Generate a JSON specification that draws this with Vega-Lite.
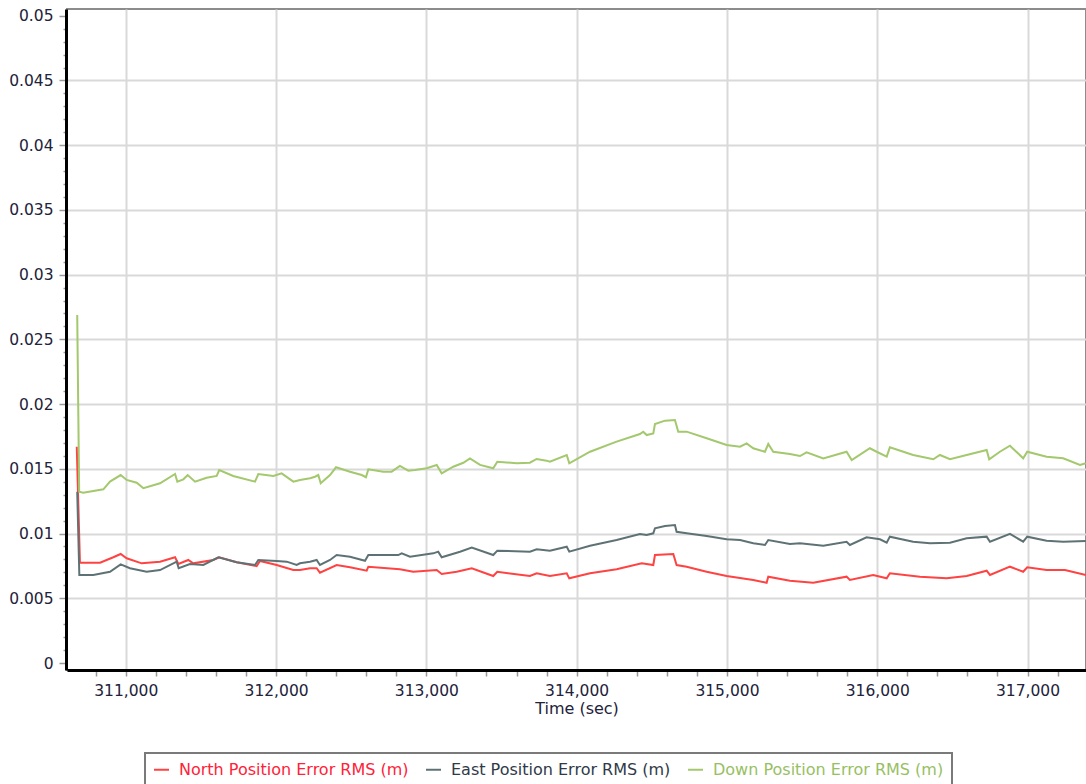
{
  "$schema": "https://vega.github.io/schema/vega-lite/v6.json",
  "width": 1019,
  "height": 661,
  "autosize": {"type": "none"},
  "padding": {"left": 67, "top": 9, "right": 0, "bottom": 114},
  "background": "white",
  "config": {"view": {"stroke": "#8c8c8c", "strokeWidth": 2}, "font": "DejaVu Sans"},
  "datasets": {
    "raw": [
      {"s":"N","t":310674,"v":0.01671},{"s":"N","t":310695,"v":0.00775},{"s":"N","t":310829,"v":0.00775},{"s":"N","t":310917,"v":0.00817},{"s":"N","t":310966,"v":0.00842},{"s":"N","t":311006,"v":0.00809},{"s":"N","t":311106,"v":0.0077},{"s":"N","t":311228,"v":0.00783},{"s":"N","t":311328,"v":0.00817},{"s":"N","t":311350,"v":0.00765},{"s":"N","t":311416,"v":0.00796},{"s":"N","t":311449,"v":0.0077},{"s":"N","t":311582,"v":0.00796},{"s":"N","t":311622,"v":0.00817},{"s":"N","t":311738,"v":0.00778},{"s":"N","t":311871,"v":0.00749},{"s":"N","t":311893,"v":0.00788},{"s":"N","t":312004,"v":0.00757},{"s":"N","t":312115,"v":0.00718},{"s":"N","t":312159,"v":0.00718},{"s":"N","t":312226,"v":0.00732},{"s":"N","t":312270,"v":0.00732},{"s":"N","t":312292,"v":0.00698},{"s":"N","t":312403,"v":0.00757},{"s":"N","t":312492,"v":0.00739},{"s":"N","t":312603,"v":0.00713},{"s":"N","t":312614,"v":0.00744},{"s":"N","t":312824,"v":0.00724},{"s":"N","t":312913,"v":0.00705},{"s":"N","t":313069,"v":0.00718},{"s":"N","t":313102,"v":0.00688},{"s":"N","t":313202,"v":0.00705},{"s":"N","t":313302,"v":0.00732},{"s":"N","t":313445,"v":0.00672},{"s":"N","t":313472,"v":0.00705},{"s":"N","t":313689,"v":0.00672},{"s":"N","t":313734,"v":0.00693},{"s":"N","t":313822,"v":0.00672},{"s":"N","t":313934,"v":0.00693},{"s":"N","t":313951,"v":0.00654},{"s":"N","t":314089,"v":0.00693},{"s":"N","t":314266,"v":0.00724},{"s":"N","t":314433,"v":0.0077},{"s":"N","t":314510,"v":0.00757},{"s":"N","t":314521,"v":0.00834},{"s":"N","t":314643,"v":0.00842},{"s":"N","t":314665,"v":0.00757},{"s":"N","t":314732,"v":0.00744},{"s":"N","t":314865,"v":0.00705},{"s":"N","t":314998,"v":0.00672},{"s":"N","t":315175,"v":0.00641},{"s":"N","t":315264,"v":0.0062},{"s":"N","t":315275,"v":0.00667},{"s":"N","t":315419,"v":0.00636},{"s":"N","t":315574,"v":0.0062},{"s":"N","t":315796,"v":0.00667},{"s":"N","t":315818,"v":0.00641},{"s":"N","t":315973,"v":0.0068},{"s":"N","t":316063,"v":0.00654},{"s":"N","t":316084,"v":0.00693},{"s":"N","t":316284,"v":0.00667},{"s":"N","t":316462,"v":0.00654},{"s":"N","t":316595,"v":0.00672},{"s":"N","t":316728,"v":0.00713},{"s":"N","t":316750,"v":0.0068},{"s":"N","t":316883,"v":0.00744},{"s":"N","t":316971,"v":0.00705},{"s":"N","t":316998,"v":0.00739},{"s":"N","t":317127,"v":0.00718},{"s":"N","t":317249,"v":0.00718},{"s":"N","t":317388,"v":0.0068},
      {"s":"E","t":310677,"v":0.01323},{"s":"E","t":310691,"v":0.0068},{"s":"E","t":310784,"v":0.0068},{"s":"E","t":310895,"v":0.00705},{"s":"E","t":310966,"v":0.00762},{"s":"E","t":311028,"v":0.00732},{"s":"E","t":311139,"v":0.00705},{"s":"E","t":311228,"v":0.00718},{"s":"E","t":311339,"v":0.00783},{"s":"E","t":311352,"v":0.00732},{"s":"E","t":311427,"v":0.00765},{"s":"E","t":311516,"v":0.00757},{"s":"E","t":311616,"v":0.00817},{"s":"E","t":311738,"v":0.00778},{"s":"E","t":311860,"v":0.00757},{"s":"E","t":311882,"v":0.00796},{"s":"E","t":312004,"v":0.00788},{"s":"E","t":312071,"v":0.00783},{"s":"E","t":312137,"v":0.00757},{"s":"E","t":312159,"v":0.0077},{"s":"E","t":312226,"v":0.00783},{"s":"E","t":312270,"v":0.00796},{"s":"E","t":312292,"v":0.00757},{"s":"E","t":312359,"v":0.00796},{"s":"E","t":312403,"v":0.00834},{"s":"E","t":312492,"v":0.00821},{"s":"E","t":312592,"v":0.0079},{"s":"E","t":312614,"v":0.00834},{"s":"E","t":312813,"v":0.00834},{"s":"E","t":312836,"v":0.00847},{"s":"E","t":312891,"v":0.00821},{"s":"E","t":313046,"v":0.00847},{"s":"E","t":313079,"v":0.0086},{"s":"E","t":313102,"v":0.00817},{"s":"E","t":313224,"v":0.0086},{"s":"E","t":313302,"v":0.00891},{"s":"E","t":313445,"v":0.00834},{"s":"E","t":313472,"v":0.00868},{"s":"E","t":313689,"v":0.0086},{"s":"E","t":313734,"v":0.00878},{"s":"E","t":313822,"v":0.00868},{"s":"E","t":313934,"v":0.00898},{"s":"E","t":313951,"v":0.0086},{"s":"E","t":314089,"v":0.00906},{"s":"E","t":314266,"v":0.0095},{"s":"E","t":314421,"v":0.00997},{"s":"E","t":314466,"v":0.00989},{"s":"E","t":314510,"v":0.01002},{"s":"E","t":314521,"v":0.01041},{"s":"E","t":314588,"v":0.01058},{"s":"E","t":314654,"v":0.01066},{"s":"E","t":314665,"v":0.01014},{"s":"E","t":314732,"v":0.01002},{"s":"E","t":314865,"v":0.00981},{"s":"E","t":314998,"v":0.00956},{"s":"E","t":315087,"v":0.0095},{"s":"E","t":315175,"v":0.00925},{"s":"E","t":315253,"v":0.00912},{"s":"E","t":315275,"v":0.0095},{"s":"E","t":315419,"v":0.00919},{"s":"E","t":315486,"v":0.00925},{"s":"E","t":315641,"v":0.00906},{"s":"E","t":315796,"v":0.00937},{"s":"E","t":315818,"v":0.00912},{"s":"E","t":315929,"v":0.00971},{"s":"E","t":316018,"v":0.00956},{"s":"E","t":316063,"v":0.00929},{"s":"E","t":316084,"v":0.00976},{"s":"E","t":316239,"v":0.00937},{"s":"E","t":316351,"v":0.00925},{"s":"E","t":316484,"v":0.00929},{"s":"E","t":316595,"v":0.00963},{"s":"E","t":316728,"v":0.00976},{"s":"E","t":316750,"v":0.00937},{"s":"E","t":316883,"v":0.00997},{"s":"E","t":316971,"v":0.00937},{"s":"E","t":316998,"v":0.00976},{"s":"E","t":317127,"v":0.00945},{"s":"E","t":317237,"v":0.00937},{"s":"E","t":317388,"v":0.00942},
      {"s":"D","t":310677,"v":0.02688},{"s":"D","t":310690,"v":0.01323},{"s":"D","t":310717,"v":0.01316},{"s":"D","t":310851,"v":0.01342},{"s":"D","t":310895,"v":0.01401},{"s":"D","t":310966,"v":0.01452},{"s":"D","t":311006,"v":0.01414},{"s":"D","t":311073,"v":0.01393},{"s":"D","t":311117,"v":0.0135},{"s":"D","t":311228,"v":0.01388},{"s":"D","t":311328,"v":0.0146},{"s":"D","t":311343,"v":0.01401},{"s":"D","t":311383,"v":0.01419},{"s":"D","t":311412,"v":0.01452},{"s":"D","t":311461,"v":0.01401},{"s":"D","t":311538,"v":0.01431},{"s":"D","t":311605,"v":0.01445},{"s":"D","t":311622,"v":0.01491},{"s":"D","t":311715,"v":0.01445},{"s":"D","t":311860,"v":0.01401},{"s":"D","t":311882,"v":0.0146},{"s":"D","t":311982,"v":0.01445},{"s":"D","t":312037,"v":0.01465},{"s":"D","t":312115,"v":0.01401},{"s":"D","t":312159,"v":0.01414},{"s":"D","t":312226,"v":0.01427},{"s":"D","t":312259,"v":0.01439},{"s":"D","t":312281,"v":0.01452},{"s":"D","t":312297,"v":0.01388},{"s":"D","t":312359,"v":0.01452},{"s":"D","t":312399,"v":0.01512},{"s":"D","t":312492,"v":0.01478},{"s":"D","t":312570,"v":0.01452},{"s":"D","t":312598,"v":0.01435},{"s":"D","t":312614,"v":0.01496},{"s":"D","t":312713,"v":0.01478},{"s":"D","t":312769,"v":0.01478},{"s":"D","t":312824,"v":0.01522},{"s":"D","t":312880,"v":0.01486},{"s":"D","t":312924,"v":0.01491},{"s":"D","t":313002,"v":0.01504},{"s":"D","t":313069,"v":0.0153},{"s":"D","t":313102,"v":0.01465},{"s":"D","t":313179,"v":0.01516},{"s":"D","t":313246,"v":0.01547},{"s":"D","t":313290,"v":0.01581},{"s":"D","t":313357,"v":0.0153},{"s":"D","t":313445,"v":0.01504},{"s":"D","t":313472,"v":0.01555},{"s":"D","t":313601,"v":0.01543},{"s":"D","t":313689,"v":0.01547},{"s":"D","t":313734,"v":0.01576},{"s":"D","t":313800,"v":0.01563},{"s":"D","t":313822,"v":0.01555},{"s":"D","t":313934,"v":0.01607},{"s":"D","t":313951,"v":0.01543},{"s":"D","t":314089,"v":0.01632},{"s":"D","t":314266,"v":0.0171},{"s":"D","t":314421,"v":0.01769},{"s":"D","t":314443,"v":0.01787},{"s":"D","t":314466,"v":0.01761},{"s":"D","t":314510,"v":0.01774},{"s":"D","t":314521,"v":0.01846},{"s":"D","t":314588,"v":0.01872},{"s":"D","t":314654,"v":0.01877},{"s":"D","t":314676,"v":0.01787},{"s":"D","t":314732,"v":0.01787},{"s":"D","t":314865,"v":0.01736},{"s":"D","t":314998,"v":0.01684},{"s":"D","t":315087,"v":0.01671},{"s":"D","t":315131,"v":0.01697},{"s":"D","t":315175,"v":0.01659},{"s":"D","t":315253,"v":0.01632},{"s":"D","t":315275,"v":0.01692},{"s":"D","t":315308,"v":0.01632},{"s":"D","t":315419,"v":0.01615},{"s":"D","t":315486,"v":0.01599},{"s":"D","t":315530,"v":0.01628},{"s":"D","t":315641,"v":0.01581},{"s":"D","t":315796,"v":0.01632},{"s":"D","t":315830,"v":0.01568},{"s":"D","t":315951,"v":0.01659},{"s":"D","t":315996,"v":0.01632},{"s":"D","t":316063,"v":0.01594},{"s":"D","t":316084,"v":0.01666},{"s":"D","t":316239,"v":0.01607},{"s":"D","t":316373,"v":0.01574},{"s":"D","t":316417,"v":0.01607},{"s":"D","t":316484,"v":0.01574},{"s":"D","t":316595,"v":0.01607},{"s":"D","t":316728,"v":0.01645},{"s":"D","t":316745,"v":0.01574},{"s":"D","t":316816,"v":0.01632},{"s":"D","t":316883,"v":0.01679},{"s":"D","t":316971,"v":0.01581},{"s":"D","t":316998,"v":0.01632},{"s":"D","t":317127,"v":0.01594},{"s":"D","t":317237,"v":0.01581},{"s":"D","t":317349,"v":0.0153},{"s":"D","t":317388,"v":0.01543}
    ]
  },
  "data": {"name": "raw"},
  "mark": {"type": "line", "strokeWidth": 2, "clip": true},
  "encoding": {
    "x": {
      "field": "t",
      "type": "quantitative",
      "scale": {"domain": [310609, 317389], "nice": false, "zero": false},
      "axis": {
        "title": "Time (sec)",
        "values": [310800,311000,311200,311400,311600,311800,312000,312200,312400,312600,312800,313000,313200,313400,313600,313800,314000,314200,314400,314600,314800,315000,315200,315400,315600,315800,316000,316200,316400,316600,316800,317000,317200],
        "labelExpr": "datum.value % 1000 == 0 ? format(datum.value, ',') : ''",
        "labelOverlap": false,
        "labelFlush": false,
        "grid": true,
        "gridColor": "#d9d9d9",
        "gridWidth": 2,
        "gridOpacity": {"condition": {"test": "datum.value % 1000 != 0", "value": 0}, "value": 1},
        "tickColor": "#9a9a9a",
        "tickWidth": 1.5,
        "tickSize": 6,
        "domainColor": "#000000",
        "domainWidth": 3,
        "offset": 0,
        "labelFontSize": 15.5,
        "labelColor": "#22223a",
        "labelPadding": 7,
        "titleFontSize": 16,
        "titleFontWeight": "normal",
        "titleColor": "#22223a",
        "titlePadding": 2
      }
    },
    "y": {
      "field": "v",
      "type": "quantitative",
      "scale": {"domain": [-0.00054, 0.05052], "nice": false, "zero": false},
      "axis": {
        "title": null,
        "values": [0,0.001,0.002,0.003,0.004,0.005,0.006,0.007,0.008,0.009,0.01,0.011,0.012,0.013,0.014,0.015,0.016,0.017,0.018,0.019,0.02,0.021,0.022,0.023,0.024,0.025,0.026,0.027,0.028,0.029,0.03,0.031,0.032,0.033,0.034,0.035,0.036,0.037,0.038,0.039,0.04,0.041,0.042,0.043,0.044,0.045,0.046,0.047,0.048,0.049,0.05],
        "labelExpr": "round(datum.value * 1000) % 5 == 0 ? format(datum.value, '~g') : ''",
        "labelOverlap": false,
        "labelFlush": false,
        "grid": true,
        "gridColor": "#d9d9d9",
        "gridWidth": 2,
        "gridOpacity": {"condition": {"test": "round(datum.value * 1000) % 5 != 0 || datum.value == 0 || datum.value >= 0.0499", "value": 0}, "value": 1},
        "tickColor": "#9a9a9a",
        "tickWidth": 1.5,
        "tickSize": {"condition": {"test": "round(datum.value * 1000) % 5 == 0", "value": 7}, "value": 3},
        "domainColor": "#000000",
        "domainWidth": 3,
        "offset": 1,
        "labelFontSize": 15.5,
        "labelColor": "#22223a",
        "labelPadding": 6
      }
    },
    "color": {
      "field": "s",
      "type": "nominal",
      "scale": {"domain": ["N", "E", "D"], "range": ["#ff4242", "#5e7275", "#a3c86d"]},
      "legend": {
        "title": null,
        "orient": "none",
        "legendX": 78,
        "legendY": 744,
        "direction": "horizontal",
        "labelExpr": "datum.label == 'N' ? 'North Position Error RMS (m)' : datum.label == 'E' ? 'East Position Error RMS (m)' : 'Down Position Error RMS (m)'",
        "labelFontSize": 16,
        "labelLimit": 400,
        "labelOffset": 9,
        "columnPadding": 13,
        "symbolType": "stroke",
        "symbolSize": 225,
        "symbolStrokeWidth": 2,
        "padding": 8,
        "strokeColor": "#7a7a7a",
        "encode": {
          "legend": {"update": {"strokeWidth": {"value": 2}}},
          "labels": {"update": {"fill": {"signal": "datum.value === 'E' ? '#2f3a48' : datum.value === 'N' ? '#ff2238' : '#97c064'"}}}
        }
      }
    }
  }
}
